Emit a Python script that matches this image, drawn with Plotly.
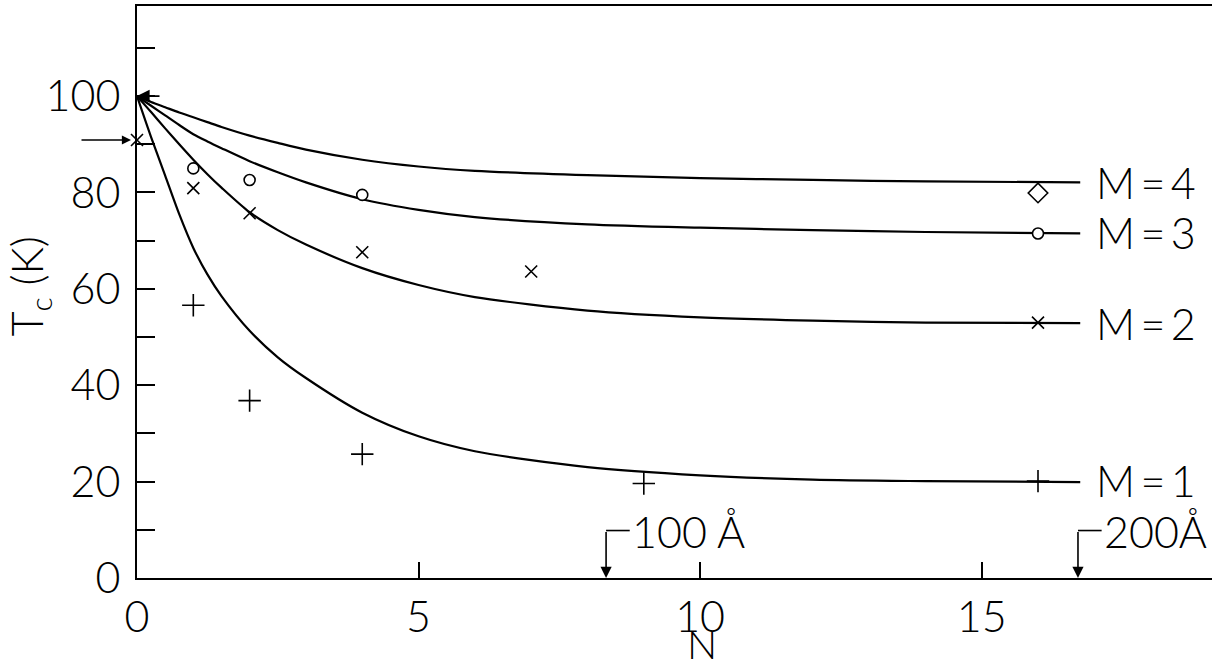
import plotly.graph_objects as go

# ---------------- data ----------------
N_curve = [0, 0.25, 0.5, 0.75, 1, 1.25, 1.5, 2, 2.5, 3, 4, 5, 6, 8, 10, 12, 14, 16.75]
Tc_curve_M4 = [100, 98.8, 97.7, 96.6, 95.6, 94.6, 93.6, 91.8, 90.3, 88.9, 86.8, 85.4, 84.5, 83.6, 83.0, 82.6, 82.3, 82.1]
Tc_curve_M3 = [100, 98.0, 96.0, 94.0, 92.1, 90.6, 89.2, 86.5, 84.2, 82.1, 78.6, 76.4, 74.9, 73.4, 72.7, 72.2, 71.8, 71.5]
Tc_curve_M2 = [100, 96.7, 93.3, 90.0, 86.8, 83.8, 81.0, 75.9, 72.2, 69.2, 64.3, 60.8, 58.3, 55.5, 54.1, 53.4, 53.0, 52.9]
Tc_curve_M1 = [100, 91.5, 83.5, 75.5, 68.5, 63.0, 58.5, 51.3, 45.8, 41.5, 34.3, 29.4, 26.3, 23.0, 21.3, 20.4, 20.1, 19.9]

N_pts_M1 = [1, 2, 4, 9, 16]
Tc_pts_M1 = [56.6, 36.8, 25.7, 19.6, 20.1]
N_pts_M2 = [0, 1, 2, 4, 7, 16]
Tc_pts_M2 = [90.9, 80.9, 75.7, 67.6, 63.6, 53.0]
N_pts_M3 = [1, 2, 4, 16]
Tc_pts_M3 = [85.0, 82.6, 79.5, 71.5]
N_pts_M4 = [16]
Tc_pts_M4 = [79.9]

curve_labels = ["M\u2009=\u20094", "M\u2009=\u20093", "M\u2009=\u20092", "M\u2009=\u20091"]
label_Tc = [82.0, 71.6, 52.9, 20.3]

x_ticks = [0, 5, 10, 15]
y_ticks = [0, 20, 40, 60, 80, 100]

thickness_marks = [8.33, 16.71]
thickness_labels = ["100 Å", "200Å"]

FONT = "Lato"
FS = 43
BLACK = "black"

fig = go.Figure()

for T in [Tc_curve_M4, Tc_curve_M3, Tc_curve_M2, Tc_curve_M1]:
    fig.add_trace(go.Scatter(x=N_curve, y=T, mode="lines",
                             line=dict(color=BLACK, width=2.2, shape="spline", smoothing=0.8),
                             showlegend=False, hoverinfo="skip"))

fig.add_trace(go.Scatter(x=N_pts_M1, y=Tc_pts_M1, mode="markers", cliponaxis=False,
                         marker=dict(symbol="cross-thin", size=16, line=dict(color=BLACK, width=1.6)),
                         showlegend=False))
fig.add_trace(go.Scatter(x=N_pts_M2, y=Tc_pts_M2, mode="markers", cliponaxis=False,
                         marker=dict(symbol="x-thin", size=12, line=dict(color=BLACK, width=1.6)),
                         showlegend=False))
fig.add_trace(go.Scatter(x=N_pts_M3, y=Tc_pts_M3, mode="markers", cliponaxis=False,
                         marker=dict(symbol="circle", size=11, color="white", line=dict(color=BLACK, width=1.6)),
                         showlegend=False))
fig.add_trace(go.Scatter(x=N_pts_M4, y=Tc_pts_M4, mode="markers", cliponaxis=False,
                         marker=dict(symbol="diamond-open", size=15, color=BLACK, line=dict(color=BLACK, width=1.6)),
                         showlegend=False))

annotations = []
# curve labels at right
for lab, t in zip(curve_labels, label_Tc):
    annotations.append(dict(x=17.0, y=t, xref="x", yref="y", text=lab, showarrow=False,
                            xanchor="left", yanchor="middle",
                            font=dict(family=FONT, size=FS, color=BLACK, weight=300)))

# thickness markers (bent arrows)
for xm, lab in zip(thickness_marks, thickness_labels):
    annotations.append(dict(x=xm, y=0, ax=xm, ay=9.85, xref="x", yref="y", axref="x", ayref="y",
                            text="", showarrow=True, arrowhead=2, arrowsize=1.4, arrowwidth=1.6,
                            arrowcolor=BLACK, standoff=0))
    fig.add_shape(type="line", x0=xm, x1=xm + 0.42, y0=9.85, y1=9.85, xref="x", yref="y",
                  line=dict(color=BLACK, width=1.6))
    annotations.append(dict(x=xm + 0.42, y=9.6, xref="x", yref="y", text=lab, showarrow=False,
                            xanchor="left", yanchor="middle",
                            font=dict(family=FONT, size=FS, color=BLACK, weight=300)))

# arrows at N = 0
annotations.append(dict(x=0, y=Tc_pts_M2[0], xref="x", yref="y", ax=-57, ay=0, text="",
                        showarrow=True, arrowhead=2, arrowsize=1.3, arrowwidth=1.4,
                        arrowcolor=BLACK, standoff=6))
annotations.append(dict(x=0, y=100, xref="x", yref="y", ax=24, ay=0, text="",
                        showarrow=True, arrowhead=2, arrowsize=1.4, arrowwidth=1.8,
                        arrowcolor=BLACK, standoff=0))

# axis titles
annotations.append(dict(x=0.5256, y=-0.1154, xref="paper", yref="paper", text="N", showarrow=False,
                        xanchor="center", yanchor="middle",
                        font=dict(family=FONT, size=40, color=BLACK, weight=300)))
annotations.append(dict(x=-0.1, y=0.509, xref="paper", yref="paper", text="T<sub>c</sub> (K)",
                        showarrow=False, textangle=-90, xanchor="center", yanchor="middle",
                        font=dict(family=FONT, size=FS, color=BLACK, weight=300)))

fig.update_layout(
    width=1212, height=667,
    margin=dict(l=137, r=0, t=6, b=89),
    paper_bgcolor="white", plot_bgcolor="white",
    annotations=annotations,
    font=dict(family=FONT, size=FS, color=BLACK, weight=300),
)

fig.update_xaxes(range=[0, 19.09], tickmode="array", tickvals=x_ticks, ticktext=[str(v) for v in x_ticks],
                 ticks="inside", ticklen=16, tickwidth=1.6, tickcolor=BLACK,
                 showline=True, linecolor=BLACK, linewidth=2, mirror=True,
                 showgrid=False, zeroline=False,
                 tickfont=dict(family=FONT, size=FS, color=BLACK, weight=300))
fig.update_yaxes(range=[0, 118.7], tickmode="array", tickvals=y_ticks, ticktext=[str(v) for v in y_ticks],
                 ticks="inside", ticklen=18, tickwidth=1.6, tickcolor=BLACK,
                 minor=dict(tickmode="array", tickvals=[10, 30, 50, 70, 90, 110], ticks="inside",
                            ticklen=18, tickwidth=1.6, tickcolor=BLACK, showgrid=False),
                 showline=True, linecolor=BLACK, linewidth=2,
                 showgrid=False, zeroline=False, ticklabelstandoff=6,
                 tickfont=dict(family=FONT, size=FS, color=BLACK, weight=300))

fig.write_html("out.html")
